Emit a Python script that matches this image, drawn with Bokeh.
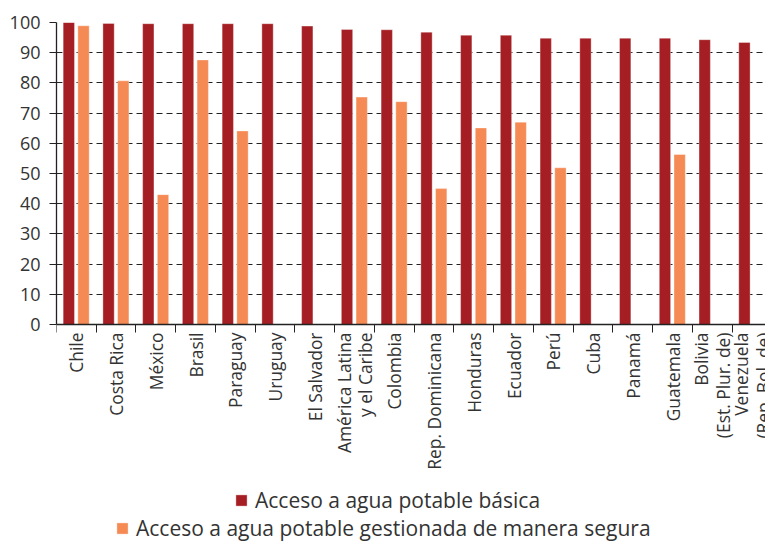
import math
import numpy as np
from bokeh.plotting import figure
from bokeh.models import (ColumnDataSource, Range1d, LinearAxis, FixedTicker,
                          Legend, LegendItem)
from bokeh.core.properties import value
from bokeh.embed import file_html
from bokeh.resources import INLINE

# Countries / regions, in chart order
countries = [
    "Chile", "Costa Rica", "México", "Brasil", "Paraguay", "Uruguay",
    "El Salvador", "América Latina\ny el Caribe", "Colombia",
    "Rep. Dominicana", "Honduras", "Ecuador", "Perú", "Cuba", "Panamá",
    "Guatemala", "Bolivia\n(Est. Plur. de)", "Venezuela\n(Rep. Bol. de)",
]

# Access to basic drinking water (%)
basica = [100.0, 99.7, 99.6, 99.6, 99.6, 99.6, 98.8, 97.7, 97.6, 96.8,
          95.8, 95.8, 94.8, 94.8, 94.8, 94.8, 94.3, 93.4]

# Access to safely managed drinking water (%), NaN where not available
segura = [98.9, 80.7, 43.0, 87.6, 64.1, np.nan, np.nan, 75.3, 73.8, 45.0,
          65.1, 67.0, 51.9, np.nan, np.nan, 56.3, np.nan, np.nan]

y_ticks = [0, 10, 20, 30, 40, 50, 60, 70, 80, 90, 100]

DARK = "#A51E23"
ORANGE = "#F58A55"
FONT = "Open Sans"
TEXT = "#333333"

n = len(countries)
idx = np.arange(n)
src = ColumnDataSource(dict(
    x1=idx + 0.31,
    x2=idx + 0.68,
    xc=idx + 0.5,
    y0=np.zeros(n),
    name=countries,
    basica=basica,
    segura=segura,
))

# The frame runs down to the bottom of the canvas; the category axis is pinned
# at y=0 so its labels and the legends sit in the lower part of the frame.
p = figure(width=765, height=543, output_backend="svg",
           toolbar_location=None,
           x_range=Range1d(0, 17.84), y_range=Range1d(-72.5, 100),
           x_axis_type=None, min_border_left=56, min_border_top=22,
           min_border_right=0, min_border_bottom=0)
p.outline_line_color = None
p.background_fill_color = "white"
p.border_fill_color = "white"

r1 = p.vbar(x="x1", top="basica", width=0.285, source=src,
            fill_color=DARK, line_color="white", line_alpha=0.35, line_width=1)
r2 = p.vbar(x="x2", top="segura", width=0.285, source=src,
            fill_color=ORANGE, line_color="white", line_alpha=0.35, line_width=1)

# y axis, drawn only over 0-100
p.yaxis.ticker = FixedTicker(ticks=y_ticks)
p.yaxis.bounds = (0, 100)
p.yaxis.axis_line_color = "#222222"
p.yaxis.axis_line_width = 1.3
p.yaxis.major_tick_line_color = "#222222"
p.yaxis.major_tick_out = 7
p.yaxis.major_tick_in = 0
p.yaxis.minor_tick_line_color = None
p.yaxis.major_label_standoff = 9
p.yaxis.major_label_text_font = FONT
p.yaxis.major_label_text_font_size = "18px"
p.yaxis.major_label_text_color = TEXT

# x axis line with short ticks at the category boundaries
xaxis = LinearAxis(
    fixed_location=0,
    ticker=FixedTicker(ticks=[], minor_ticks=list(range(n + 1))),
    major_tick_out=0, major_tick_in=0,
    minor_tick_out=8, minor_tick_in=0,
    minor_tick_line_color="#222222",
    axis_line_color="#222222", axis_line_width=1.3,
    major_label_text_font_size="0px",
)
p.add_layout(xaxis, "below")

# category names, vertical, hanging from the axis at each category centre
p.text(x="xc", y="y0", text="name", source=src, angle=math.pi / 2,
       y_offset=8, text_align="right", text_baseline="middle",
       text_font=value(FONT), text_font_size="17.4px", text_color=TEXT,
       text_line_height=0.9)

# grid
p.xgrid.grid_line_color = None
p.ygrid.ticker = FixedTicker(ticks=y_ticks[1:])
p.ygrid.grid_line_color = "#222222"
p.ygrid.grid_line_dash = "6 4"
p.ygrid.grid_line_width = 1

# legends, one centred line per series, under the category names
for r, label, loc in [(r1, "Acceso a agua potable básica", (178, 29)),
                      (r2, "Acceso a agua potable gestionada de manera segura",
                       (59, 1))]:
    lg = Legend(items=[LegendItem(label=label, renderers=[r])],
                location=loc, orientation="horizontal",
                glyph_width=14, glyph_height=14, label_standoff=7,
                label_text_font=FONT, label_text_font_size="21px",
                label_text_color=TEXT, padding=1, margin=0, spacing=0,
                border_line_color=None, background_fill_alpha=0)
    p.add_layout(lg, "center")

open("out.html", "w").write(file_html(p, INLINE))
